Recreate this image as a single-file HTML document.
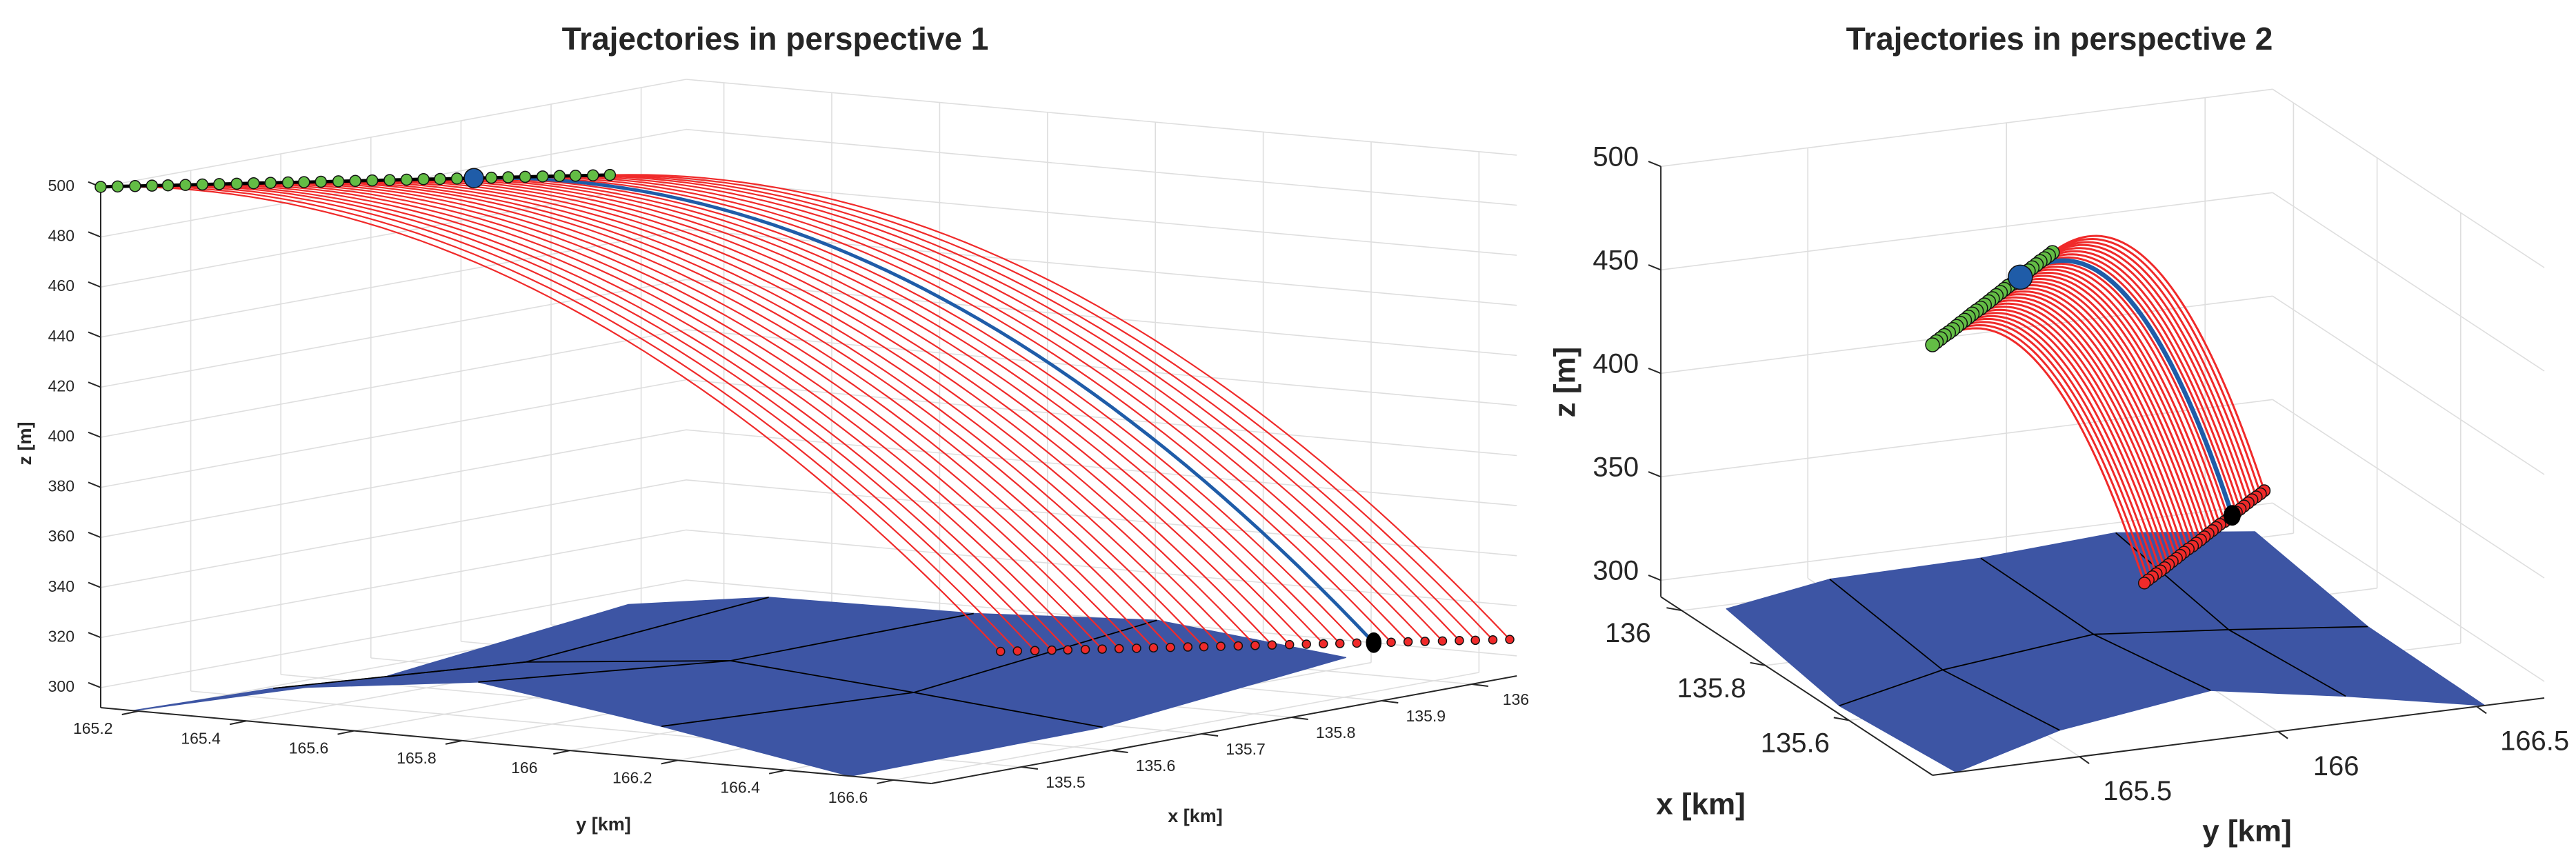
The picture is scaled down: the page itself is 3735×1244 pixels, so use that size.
<!DOCTYPE html>
<html><head><meta charset="utf-8"><style>
html,body{margin:0;padding:0;background:#fff}
svg{display:block}
text{font-family:"Liberation Sans",Arial,sans-serif;fill:#262626}
</style></head><body>
<svg id="fig" width="3735" height="1244" viewBox="0 0 3735 1244" xmlns="http://www.w3.org/2000/svg">
<rect width="3735" height="1244" fill="#fff"/>
<g id="p1"></g>
<g id="p2"></g>
</svg>
<script>
// ---- data (km for x,y; m for z) ----
const startX=[135.400,135.408,135.416,135.424,135.431,135.439,135.447,135.455,135.463,135.471,135.479,135.487,135.494,135.502,135.510,135.518,135.526,135.534,135.542,135.550,135.557,135.565,135.573,135.581,135.589,135.597,135.605,135.613,135.620,135.628,135.636];
const startY=[165.130,165.148,165.167,165.185,165.203,165.222,165.240,165.258,165.277,165.295,165.313,165.332,165.350,165.368,165.387,165.405,165.423,165.442,165.460,165.478,165.497,165.515,165.533,165.552,165.570,165.588,165.607,165.625,165.643,165.662,165.680];
const startZ=[500,500,500,500,500,500,500,500,500,500,500,500,500,500,500,500,500,500,500,500,500,500,500,500,500,500,500,500,500,500,500];
const endX=[135.817,135.825,135.833,135.841,135.848,135.856,135.864,135.872,135.880,135.888,135.896,135.904,135.911,135.919,135.927,135.935,135.943,135.951,135.959,135.967,135.974,135.982,135.990,135.998,136.006,136.014,136.022,136.030,136.037,136.045,136.053];
const endY=[166.102,166.120,166.139,166.157,166.175,166.194,166.212,166.230,166.249,166.267,166.285,166.304,166.322,166.340,166.359,166.377,166.395,166.414,166.432,166.450,166.469,166.487,166.505,166.524,166.542,166.560,166.579,166.597,166.615,166.634,166.652];
const endZ=[306,306,306,306,306,306,306,306,306,306,306,306,306,306,306,306,306,306,306,306,306,306,306,306,306,306,306,306,306,306,306];
const nominalIndex=22;
const terrainX=[135.40,135.68,135.95];
const terrainY=[165.19,165.45,165.83,166.17,166.52];
const terrainZ0=[292,306,316,305,292];
const terrainZ1=[287,298,306,300,293];
const terrainZ2=[298,306,307,311,303];
const p1zTicks=[300,320,340,360,380,400,420,440,460,480,500];
const p1yTicks=[165.2,165.4,165.6,165.8,166,166.2,166.4,166.6];
const p1xTicks=[135.5,135.6,135.7,135.8,135.9,136];
const p2zTicks=[300,350,400,450,500];
const p2yTicks=[165.5,166,166.5];
const p2xTicks=[135.6,135.8,136];

const XMIN=135.4,XMAX=136.05,YMIN=165.13,YMAX=166.67,ZMIN=292,ZMAX=500;
const NS='http://www.w3.org/2000/svg';
function el(tag,attrs,parent){const e=document.createElementNS(NS,tag);for(const k in attrs)e.setAttribute(k,attrs[k]);parent.appendChild(e);return e;}
function proj(p,x,y,z){const dy=y-YMIN,dx=x-XMIN,dz=z-ZMIN;return [p.ox+p.yx*dy+p.xx*dx,p.oy+p.yy*dy+p.xy*dx-p.zs*dz];}
function line(g,p,a,b,stroke,w){const A=proj(p,a[0],a[1],a[2]),B=proj(p,b[0],b[1],b[2]);return el('line',{x1:A[0].toFixed(1),y1:A[1].toFixed(1),x2:B[0].toFixed(1),y2:B[1].toFixed(1),stroke:stroke,'stroke-width':w},g);}
function fmt(v){return (Math.round(v*10)/10).toString();}

function drawPanel(g,p,cfg){
  const grid=el('g',{},g);
  
  
  const gc='#dedede',gw=1.6;
  cfg.zTicks.forEach(z=>{
    cfg.zWalls.forEach(seg=>{const l=line(grid,p,[seg[0],seg[1],z],[seg[2],seg[3],z],gc,gw);});
  });
  cfg.xTicks.forEach(x=>{
    let l=line(grid,p,[x,cfg.xWallY,ZMIN],[x,cfg.xWallY,ZMAX],gc,gw);
    l=line(grid,p,[x,YMIN,ZMIN],[x,YMAX,ZMIN],gc,gw);
  });
  cfg.yTicks.forEach(y=>{
    let l=line(grid,p,[XMAX,y,ZMIN],[XMAX,y,ZMAX],gc,gw);
    l=line(grid,p,[XMIN,y,ZMIN],[XMAX,y,ZMIN],gc,gw);
  });
  const tz=[terrainZ0,terrainZ1,terrainZ2];
  const surf=el('g',{},g);
  
  
  const cells=[];
  for(let i=0;i<terrainX.length-1;i++)for(let j=0;j<terrainY.length-1;j++){
    const c=[[i,j],[i,j+1],[i+1,j+1],[i+1,j]].map(q=>proj(p,terrainX[q[0]],terrainY[q[1]],tz[q[0]][q[1]]));
    const ctr=proj(p,(terrainX[i]+terrainX[i+1])/2,(terrainY[j]+terrainY[j+1])/2,ZMIN);
    cells.push({c,d:ctr[1]});
  }
  cells.sort((a,b)=>a.d-b.d);
  cells.forEach(o=>{const pg=el('polygon',{points:o.c.map(q=>q[0].toFixed(1)+','+q[1].toFixed(1)).join(' '),fill:'#3d55a4',stroke:'#3d55a4','stroke-width':1.5,'stroke-linejoin':'round'},surf);});
  for(let j=1;j<terrainY.length-1;j++){const pts=terrainX.map((x,i)=>proj(p,x,terrainY[j],tz[i][j]));const pl=el('polyline',{points:pts.map(q=>q.join(',')).join(' '),fill:'none',stroke:'#000','stroke-width':1.8},surf);}
  {const pts=terrainY.map((y,j)=>proj(p,terrainX[1],y,tz[1][j]));const pl=el('polyline',{points:pts.map(q=>q.join(',')).join(' '),fill:'none',stroke:'#000','stroke-width':1.8},surf);}
  const ax=el('g',{},g);
  
  
  cfg.axes.forEach(a=>{const l=line(ax,p,a[0],a[1],'#262626',2);});
  const fs=cfg.fs;
  cfg.zTicks.forEach(z=>{const A=proj(p,cfg.zAxisX,cfg.zAxisY,z);
    const t=el('line',{x1:A[0],y1:A[1],x2:A[0]-cfg.zTickLen,y2:A[1]-cfg.zTickLen*0.4,stroke:'#262626','stroke-width':2},ax);
    const tx=el('text',{x:A[0]+cfg.zLab[0],y:A[1]+cfg.zLab[1],'font-size':fs,'text-anchor':'end','dominant-baseline':'central'},ax);tx.textContent=String(z);});
  cfg.yTicks.forEach(y=>{const A=proj(p,XMIN,y,ZMIN);
    const t=el('line',{x1:A[0],y1:A[1],x2:A[0]+cfg.yTickDir[0],y2:A[1]+cfg.yTickDir[1],stroke:'#262626','stroke-width':2},ax);
    const tx=el('text',{x:A[0]+cfg.yLab[0],y:A[1]+cfg.yLab[1],'font-size':fs,'text-anchor':'middle','dominant-baseline':'central'},ax);tx.textContent=fmt(y);});
  cfg.xTicks.forEach(x=>{const A=proj(p,x,cfg.xAxisY,ZMIN);
    const t=el('line',{x1:A[0],y1:A[1],x2:A[0]+cfg.xTickDir[0],y2:A[1]+cfg.xTickDir[1],stroke:'#262626','stroke-width':2},ax);
    const tx=el('text',{x:A[0]+cfg.xLab[0],y:A[1]+cfg.xLab[1],'font-size':fs,'text-anchor':'middle','dominant-baseline':'central'},ax);tx.textContent=fmt(x);});
  const tr=el('g',{},g);
  
  
  function path(i){const pts=[];for(let k=0;k<=48;k++){const s=k/48;const x=startX[i]+(endX[i]-startX[i])*s,y=startY[i]+(endY[i]-startY[i])*s,z=startZ[i]-(startZ[i]-endZ[i])*s*s;const q=proj(p,x,y,z);pts.push(q[0].toFixed(1)+','+q[1].toFixed(1));}return pts.join(' ');}
  for(let i=0;i<startX.length;i++){if(i===nominalIndex)continue;const pl=el('polyline',{points:path(i),fill:'none',stroke:'#f02a2a','stroke-width':cfg.lw},tr);}
  const nb=el('polyline',{points:path(nominalIndex),fill:'none',stroke:'#1f5ca8','stroke-width':cfg.lw*2.2},tr);
  
  
  const sp=startX.map((x,i)=>proj(p,x,startY[i],startZ[i]));
  const sl=el('polyline',{points:sp.map(q=>q.join(',')).join(' '),fill:'none',stroke:'#000','stroke-width':cfg.r1*0.6},tr);
  
  
  const order=startX.map((x,i)=>i);
  if(cfg.rev)order.reverse();
  order.forEach(i=>{if(i===nominalIndex)return;const q=sp[i];const c=el('circle',{cx:q[0],cy:q[1],r:cfg.r1,fill:'#63bd45',stroke:'#111','stroke-width':1.5},tr);});
  {const q=sp[nominalIndex];const c=el('circle',{cx:q[0],cy:q[1],r:cfg.r1*1.75,fill:'#1f5ca8',stroke:'#111','stroke-width':1.5},tr);}
  const ep=endX.map((x,i)=>proj(p,x,endY[i],endZ[i]));
  order.forEach(i=>{if(i===nominalIndex)return;const q=ep[i];const c=el('circle',{cx:q[0],cy:q[1],r:cfg.r2,fill:'#f02a2a',stroke:'#111','stroke-width':1.5},tr);});
  {const q=ep[nominalIndex];const c=el('ellipse',{cx:q[0],cy:q[1],rx:cfg.r2*cfg.bk[0],ry:cfg.r2*cfg.bk[1],fill:'#000',stroke:'#000','stroke-width':1},tr);}
  const t=el('text',{x:cfg.title[0],y:cfg.title[1],'font-size':46,'font-weight':'bold','text-anchor':'middle',fill:'#000'},g);t.textContent=cfg.titleText;
  const xl=el('text',{x:cfg.xTitle[0],y:cfg.xTitle[1],'font-size':cfg.afs,'font-weight':'bold','text-anchor':'middle','dominant-baseline':'central'},g);xl.textContent='x [km]';
  const yl=el('text',{x:cfg.yTitle[0],y:cfg.yTitle[1],'font-size':cfg.afs,'font-weight':'bold','text-anchor':'middle','dominant-baseline':'central'},g);yl.textContent='y [km]';
  const zl=el('text',{x:cfg.zTitle[0],y:cfg.zTitle[1],'font-size':cfg.afs,'font-weight':'bold','text-anchor':'middle','dominant-baseline':'central',transform:'rotate(-90 '+cfg.zTitle[0]+' '+cfg.zTitle[1]+')'},g);zl.textContent='z [m]';
}

const P1={ox:146,oy:1026,yx:782,yy:71.4,xx:1306,xy:-240,zs:3.63};
const P2={ox:2802,oy:1124,yx:576,yy:-72.7,xx:-606,xy:-398,zs:3.0};

drawPanel(document.getElementById('p1'),P1,{
  zTicks:p1zTicks,yTicks:p1yTicks,xTicks:p1xTicks,
  zWalls:[[XMIN,YMIN,XMAX,YMIN],[XMAX,YMIN,XMAX,YMAX]],xWallY:YMIN,
  axes:[[[XMIN,YMIN,ZMIN],[XMIN,YMIN,ZMAX],'z-axis-line'],[[XMIN,YMIN,ZMIN],[XMIN,YMAX,ZMIN],'y-axis-line'],[[XMIN,YMAX,ZMIN],[XMAX,YMAX,ZMIN],'x-axis-line']],
  zAxisX:XMIN,zAxisY:YMIN,zTickLen:18,zLab:[-38,-2],
  yTickDir:[-24,5],yLab:[-66,25],xAxisY:YMAX,xTickDir:[24,3],xLab:[64,22],
  fs:23,afs:27,lw:2.2,r1:8,r2:6,rev:false,bk:[1.8,2.4],
  title:[1124,72],titleText:'Trajectories in perspective 1',
  xTitle:[1733,1183],yTitle:[875,1195],zTitle:[36,643]
});
drawPanel(document.getElementById('p2'),P2,{
  zTicks:p2zTicks,yTicks:p2yTicks,xTicks:p2xTicks,
  zWalls:[[XMAX,YMIN,XMAX,YMAX],[XMAX,YMAX,XMIN,YMAX]],xWallY:YMAX,
  axes:[[[XMAX,YMIN,ZMIN],[XMAX,YMIN,ZMAX],'z-axis-line'],[[XMIN,YMIN,ZMIN],[XMAX,YMIN,ZMIN],'x-axis-line'],[[XMIN,YMIN,ZMIN],[XMIN,YMAX,ZMIN],'y-axis-line']],
  zAxisX:XMAX,zAxisY:YMIN,zTickLen:18,zLab:[-32,-14],
  yTickDir:[14,10],yLab:[84,50],xAxisY:YMIN,xTickDir:[-22,-4],xLab:[-78,33],
  fs:40,afs:44,lw:3,r1:10,r2:8.5,rev:true,bk:[1.4,1.7],
  title:[2986,72],titleText:'Trajectories in perspective 2',
  xTitle:[2466,1166],yTitle:[3258,1205],zTitle:[2269,554]
});
</script>
</body></html>
